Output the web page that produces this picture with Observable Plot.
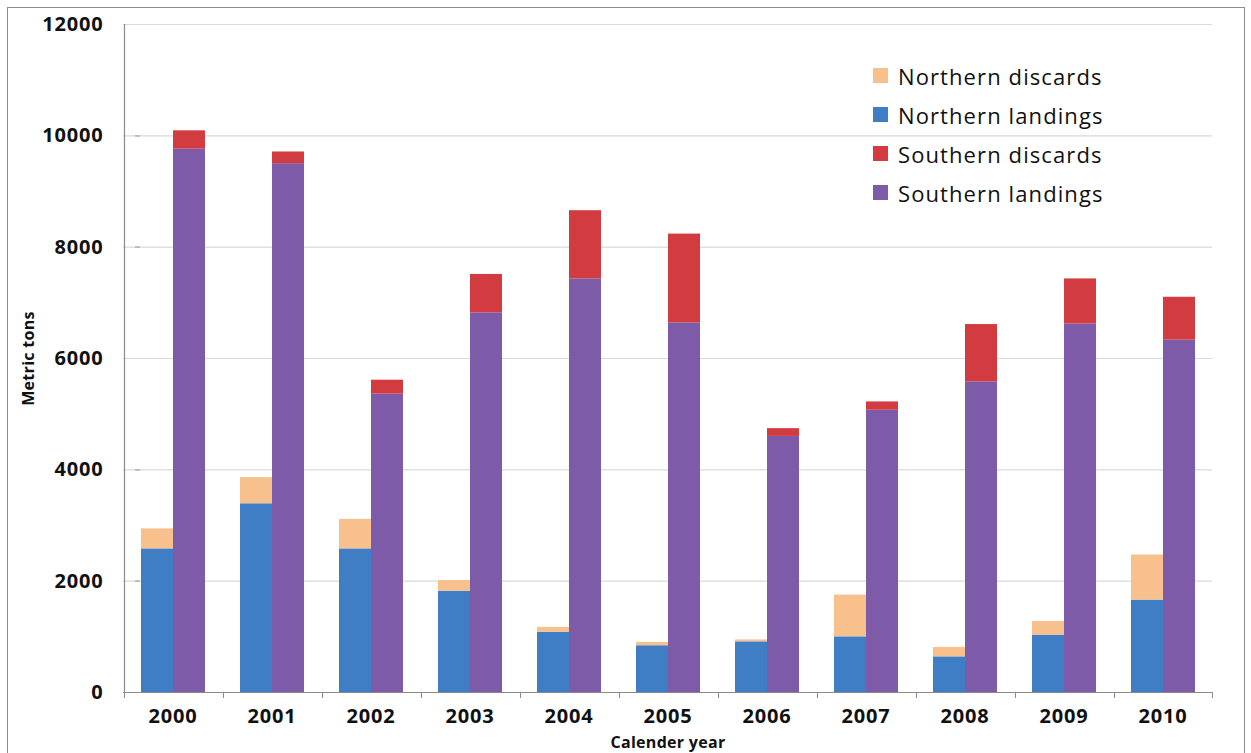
<!DOCTYPE html>
<html>
<head>
<meta charset="utf-8">
<script src="https://cdn.jsdelivr.net/npm/d3@7"></script>
<script src="https://cdn.jsdelivr.net/npm/@observablehq/plot@0.6"></script>
<style>
  html, body { margin: 0; padding: 0; background: #fff; }
  #wrap { position: relative; width: 1251px; height: 753px; overflow: hidden; font-family: "Open Sans", sans-serif; }
  #border { position: absolute; left: 7px; top: 7px; width: 1238px; height: 780px; border: 1.5px solid #8c8c8c; box-sizing: border-box; pointer-events: none; }
  #legend { position: absolute; left: 873px; top: 56px; }
  .item { display: flex; align-items: center; height: 39px; font-size: 22px; letter-spacing: 1.1px; color: #111; }
  .sw { width: 15px; height: 15px; margin-right: 10px; }
  svg text { letter-spacing: 0.8px; }
  svg [aria-label="y-axis label"] text, svg [aria-label="fx-axis label"] text,
  svg [aria-label="y-axis label"], svg [aria-label="fx-axis label"] { font-size: 16px; letter-spacing: 0.3px; }
</style>
</head>
<body>
<div id="wrap"><div id="chart"></div><div id="legend"></div><div id="border"></div></div>
<script>
const years = ["2000","2001","2002","2003","2004","2005","2006","2007","2008","2009","2010"];
const northernLandings = [2580, 3390, 2580, 1820, 1080, 840, 910, 1000, 640, 1030, 1660];
const northernDiscards = [360, 470, 530, 190, 90, 60, 35, 750, 170, 245, 810];
const southernLandings = [9760, 9500, 5360, 6820, 7430, 6640, 4600, 5070, 5580, 6620, 6330];
const southernDiscards = [330, 210, 250, 690, 1225, 1595, 140, 150, 1030, 810, 770];
const seriesNames = ["Northern discards", "Northern landings", "Southern discards", "Southern landings"];
const seriesColors = ["#F8C08C", "#3F7EC4", "#D23C40", "#7E5BA8"];
const regions = ["Northern", "Southern"];
const yTicks = [0, 2000, 4000, 6000, 8000, 10000, 12000];

const rows = [];
years.forEach((year, i) => {
  rows.push({year, region: "Northern", series: "Northern landings", value: northernLandings[i]});
  rows.push({year, region: "Northern", series: "Northern discards", value: northernDiscards[i]});
  rows.push({year, region: "Southern", series: "Southern landings", value: southernLandings[i]});
  rows.push({year, region: "Southern", series: "Southern discards", value: southernDiscards[i]});
});

const chart = Plot.plot({
  width: 1251,
  height: 753,
  marginLeft: 123,
  marginRight: 39,
  marginTop: 24,
  marginBottom: 61,
  style: {fontFamily: "'Open Sans', sans-serif", fontSize: "20px", fontWeight: "bold", color: "#111", background: "transparent"},
  fx: {domain: years, paddingInner: 0.34, paddingOuter: 0.17, axis: "bottom", tickSize: 0, tickPadding: 16,
       label: "Calender year", labelAnchor: "center", labelOffset: 55, labelArrow: "none"},
  x: {domain: regions, padding: 0, axis: null},
  y: {domain: [0, 12000], ticks: yTicks, tickFormat: d => String(d), tickSize: 5, tickPadding: 32,
      label: "Metric tons", labelAnchor: "center", labelOffset: 118, labelArrow: "none"},
  color: {domain: seriesNames, range: seriesColors},
  marks: [
    Plot.ruleY(yTicks.filter(d => d > 0), {stroke: "#d9d9d9", strokeWidth: 1.2, insetLeft: -17, insetRight: -17}),
    Plot.barY(rows, {fx: "year", x: "region", y: "value", fill: "series"}),
    Plot.ruleY([0], {stroke: "#8a8a8a", strokeWidth: 1.2, insetLeft: -17, insetRight: -17}),
    Plot.ruleX([{year: years[0]}], {fx: "year", x: () => "Northern", dx: -33, stroke: "#8a8a8a", strokeWidth: 1.2}),
    Plot.ruleX(years.map(year => ({year})), {fx: "year", x: () => "Northern", dx: -33, y1: 0, y2: 0, insetBottom: -6, stroke: "#8a8a8a"}),
    Plot.ruleX([{year: years[years.length - 1]}], {fx: "year", x: () => "Southern", dx: 33, y1: 0, y2: 0, insetBottom: -6, stroke: "#8a8a8a"})
  ]
});
document.getElementById("chart").appendChild(chart);

const legend = document.getElementById("legend");
seriesNames.forEach((name, i) => {
  const item = document.createElement("div");
  item.className = "item";
  const sw = document.createElement("span");
  sw.className = "sw";
  sw.style.background = seriesColors[i];
  const label = document.createElement("span");
  label.textContent = name;
  item.appendChild(sw);
  item.appendChild(label);
  legend.appendChild(item);
});
</script>
</body>
</html>
